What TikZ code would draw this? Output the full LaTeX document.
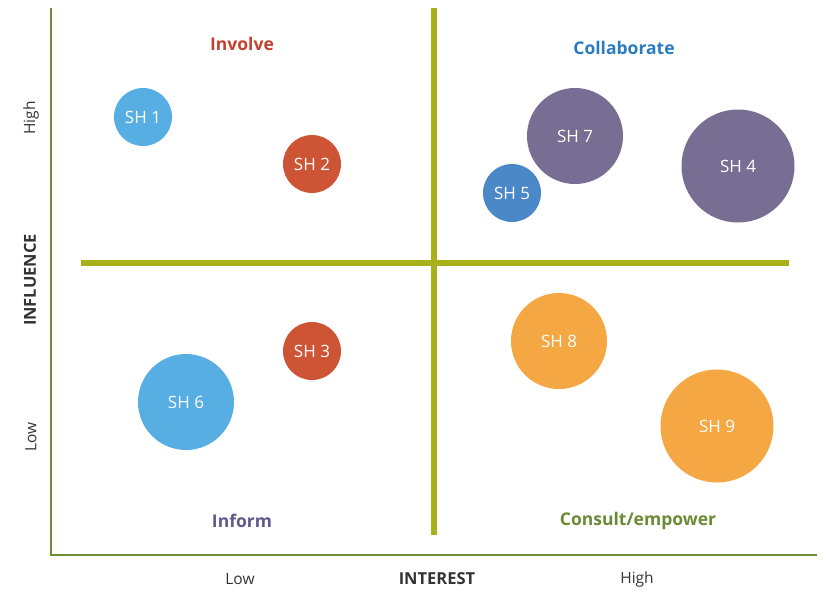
\documentclass[tikz,border=0pt]{standalone}
\usepackage{fontspec}
\setmainfont{Open Sans}
\definecolor{axisc}{HTML}{6F8F2F}
\definecolor{quadc}{HTML}{A8B11A}
\definecolor{lblue}{HTML}{56AEE2}
\definecolor{dblue}{HTML}{4A88C8}
\definecolor{redc}{HTML}{CD5435}
\definecolor{purc}{HTML}{786E93}
\definecolor{orac}{HTML}{F4A742}
\definecolor{involvec}{HTML}{C4402F}
\definecolor{collabc}{HTML}{2A7BC0}
\definecolor{informc}{HTML}{5C5A8C}
\definecolor{consultc}{HTML}{6A8B34}
\definecolor{textc}{HTML}{333333}
\begin{document}
\begin{tikzpicture}[x=1pt,y=-1pt,
  bubble/.style={circle,inner sep=0pt,text=white,font=\fontsize{17}{19}\selectfont},
  quadlabel/.style={font=\fontsize{17.5}{20}\selectfont\bfseries},
  ticklabel/.style={text=textc,font=\fontsize{15.5}{18}\selectfont},
  axislabel/.style={text=textc,font=\fontsize{16.5}{19}\selectfont\bfseries}]
\useasboundingbox (0,0) rectangle (825,590);
% axes
\coordinate (ytop) at (51,8);
\coordinate (origin) at (51,555);
\coordinate (xend) at (817,555);
\draw[axisc,line width=1.5pt] (ytop) -- (origin) -- (xend);
% quadrant lines
\coordinate (hl) at (81,263);
\coordinate (hr) at (789,263);
\coordinate (vt) at (434,8);
\coordinate (vb) at (434,535);
\draw[quadc,line width=6.5pt] (hl) -- (hr);
\draw[quadc,line width=6.5pt] (vt) -- (vb);
% bubbles
\node[bubble,fill=lblue,minimum size=58pt] (sh1) at (143,117) {SH 1};
\node[bubble,fill=redc,minimum size=58pt] (sh2) at (312,164) {SH 2};
\node[bubble,fill=redc,minimum size=58pt] (sh3) at (312,351) {SH 3};
\node[bubble,fill=lblue,minimum size=96pt] (sh6) at (186,402) {SH 6};
\node[bubble,fill=dblue,minimum size=58pt] (sh5) at (512,193) {SH 5};
\node[bubble,fill=purc,minimum size=96pt] (sh7) at (575,136) {SH 7};
\node[bubble,fill=purc,minimum size=113pt] (sh4) at (738,166) {SH 4};
\node[bubble,fill=orac,minimum size=96pt] (sh8) at (559,341) {SH 8};
\node[bubble,fill=orac,minimum size=113pt] (sh9) at (717,426) {SH 9};
% quadrant labels
\node[quadlabel,text=involvec] (involve) at (242,44) {Involve};
\node[quadlabel,text=collabc] (collab) at (624,48) {Collaborate};
\node[quadlabel,text=informc] (inform) at (242,521) {Inform};
\node[quadlabel,text=consultc] (consult) at (638,521) {Consult/empower};
% axis labels
\node[axislabel,rotate=90] (influence) at (30,280) {INFLUENCE};
\node[ticklabel,rotate=90] (yhigh) at (31,118) {High};
\node[ticklabel,rotate=90] (ylow) at (31,437) {Low};
\node[axislabel] (interest) at (437,579) {INTEREST};
\node[ticklabel] (xlow) at (240,579) {Low};
\node[ticklabel] (xhigh) at (637,579) {High};
\end{tikzpicture}
\end{document}
